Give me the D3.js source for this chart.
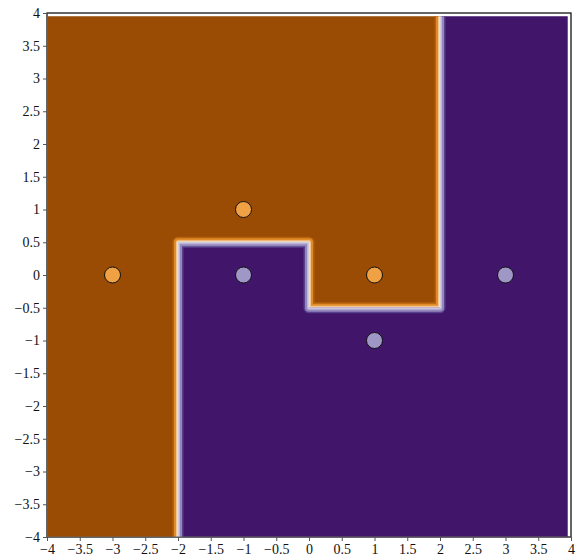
<!DOCTYPE html>
<html>
<head>
<meta charset="utf-8">
<script src="https://cdn.jsdelivr.net/npm/d3@7"></script>
<style>
  html, body { margin: 0; padding: 0; background: #fff; }
</style>
</head>
<body>
<svg id="chart" width="577" height="560"></svg>
<script>
// Tick values for both axes
const xTicks = [-4, -3.5, -3, -2.5, -2, -1.5, -1, -0.5, 0, 0.5, 1, 1.5, 2, 2.5, 3, 3.5, 4];
const yTicks = [-4, -3.5, -3, -2.5, -2, -1.5, -1, -0.5, 0, 0.5, 1, 1.5, 2, 2.5, 3, 3.5, 4];

// Evaluation grid extent of the decision surface
const gridMin = -4;
const gridMax = 3.95;

// Decision regions: vertical splits and the top of the class-1 region in each strip
const stripEdges = [-4, -2, 0, 2, 3.95];
const class1Top  = [-4, 0.5, -0.5, 3.95];

// Training points
const class0X = [-3, -1, 1];
const class0Y = [0, 1, 0];
const class1X = [-1, 1, 3];
const class1Y = [0, -1, 0];

const svg = d3.select("#chart");
const x = d3.scaleLinear().domain([-4, 4]).range([47, 571]);
const y = d3.scaleLinear().domain([-4, 4]).range([537, 13]);

// Outer frame
svg.append("rect")
  .attr("x", x(-4)).attr("y", y(4))
  .attr("width", x(4) - x(-4)).attr("height", y(-4) - y(4))
  .attr("fill", "none").attr("stroke", "#000").attr("stroke-width", 1.2);

// Class-1 polygon (step shape) built from the strips
const class1Pts = [];
for (let i = 0; i < class1Top.length; i++) {
  class1Pts.push([stripEdges[i], class1Top[i]]);
  class1Pts.push([stripEdges[i + 1], class1Top[i]]);
}
class1Pts.push([stripEdges[stripEdges.length - 1], gridMin]);
class1Pts.push([stripEdges[0], gridMin]);

// Class-0 polygon: everything in the grid above the class-1 steps
const class0Pts = [[gridMin, gridMin]];
for (let i = 0; i < class1Top.length; i++) {
  class0Pts.push([stripEdges[i], class1Top[i]]);
  class0Pts.push([stripEdges[i + 1], class1Top[i]]);
}
class0Pts.push([gridMax, gridMax]);
class0Pts.push([gridMin, gridMax]);

// Boundary between regions (the interior step edges)
const boundaryPts = [];
for (let i = 1; i < class1Top.length; i++) {
  boundaryPts.push([stripEdges[i], i === 1 ? gridMin : class1Top[i - 1]]);
  boundaryPts.push([stripEdges[i], class1Top[i]]);
}

const line = d3.line().x(d => x(d[0])).y(d => y(d[1]));
const poly = pts => line(pts) + "Z";

const defs = svg.append("defs");
defs.append("clipPath").attr("id", "clip0").append("path").attr("d", poly(class0Pts));
defs.append("clipPath").attr("id", "clip1").append("path").attr("d", poly(class1Pts));

// Filled regions
svg.append("path").attr("d", poly(class0Pts)).attr("fill", "#9a4c05");
svg.append("path").attr("d", poly(class1Pts)).attr("fill", "#41166a");

// Soft transition bands on either side of the boundary
const band0 = [{w: 11, c: "#b5600d"}, {w: 8, c: "#e08a28"}, {w: 4, c: "#f2c68e"}, {w: 1.5, c: "#ece4da"}];
const band1 = [{w: 11, c: "#58408a"}, {w: 8, c: "#9487bf"}, {w: 4, c: "#bdb5d6"}, {w: 1.5, c: "#d9d6e2"}];

const g0 = svg.append("g").attr("clip-path", "url(#clip0)");
band0.forEach(b => g0.append("path").attr("d", line(boundaryPts))
  .attr("fill", "none").attr("stroke", b.c).attr("stroke-width", b.w)
  .attr("stroke-linejoin", "round"));
const g1 = svg.append("g").attr("clip-path", "url(#clip1)");
band1.forEach(b => g1.append("path").attr("d", line(boundaryPts))
  .attr("fill", "none").attr("stroke", b.c).attr("stroke-width", b.w)
  .attr("stroke-linejoin", "round"));

// Left and bottom spines
svg.append("line").attr("x1", x(-4)).attr("x2", x(-4)).attr("y1", y(-4)).attr("y2", y(4))
  .attr("stroke", "#666").attr("stroke-width", 1);
svg.append("line").attr("x1", x(-4)).attr("x2", x(4)).attr("y1", y(-4)).attr("y2", y(-4))
  .attr("stroke", "#666").attr("stroke-width", 1);

// Points
const pts0 = class0X.map((v, i) => [v, class0Y[i]]);
const pts1 = class1X.map((v, i) => [v, class1Y[i]]);
svg.selectAll("circle.c0").data(pts0).enter().append("circle")
  .attr("cx", d => x(d[0])).attr("cy", d => y(d[1])).attr("r", 8)
  .attr("fill", "#efa143").attr("stroke", "#111").attr("stroke-width", 1);
svg.selectAll("circle.c1").data(pts1).enter().append("circle")
  .attr("cx", d => x(d[0])).attr("cy", d => y(d[1])).attr("r", 8)
  .attr("fill", "#9f97c6").attr("stroke", "#111").attr("stroke-width", 1);

// Axes
const fmt = d => String(d).replace("-", "\u2212");
const xAxis = d3.axisBottom(x).tickValues(xTicks).tickFormat(fmt).tickSize(4).tickPadding(3);
const yAxis = d3.axisLeft(y).tickValues(yTicks).tickFormat(fmt).tickSize(4).tickPadding(3);
const gx = svg.append("g").attr("transform", `translate(0,${y(-4)})`).call(xAxis);
const gy = svg.append("g").attr("transform", `translate(${x(-4)},0)`).call(yAxis);
[gx, gy].forEach(g => {
  g.attr("font-family", "'Liberation Serif', 'DejaVu Serif', serif").attr("font-size", 14);
  g.select(".domain").remove();
  g.selectAll(".tick line").attr("stroke", "#555");
  g.selectAll("text").attr("fill", "#111");
});
</script>
</body>
</html>
